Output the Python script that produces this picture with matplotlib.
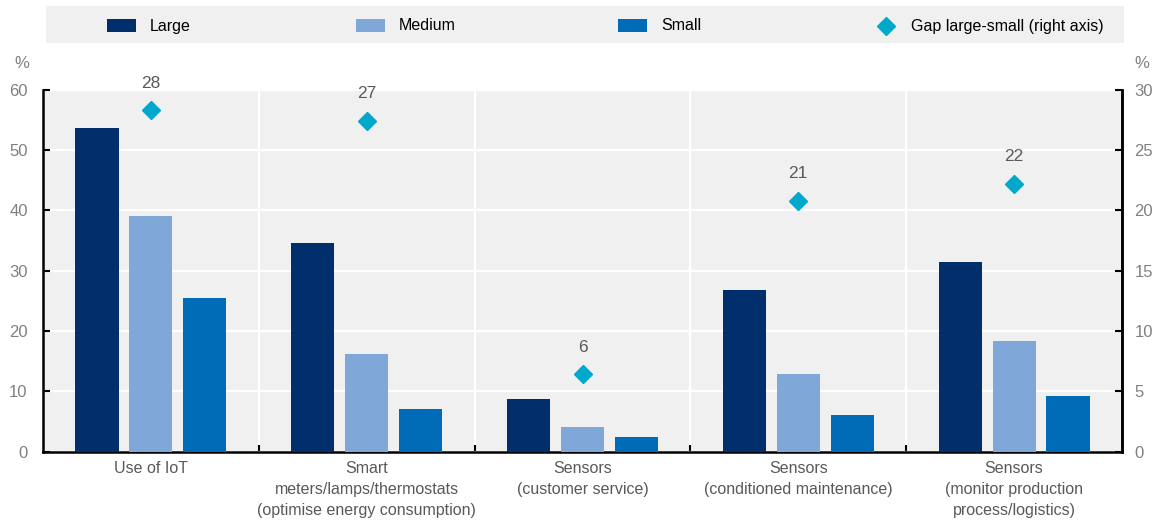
import matplotlib
matplotlib.use('Agg')
import numpy as np
import matplotlib.pyplot as plt
from matplotlib.patches import Rectangle
from matplotlib.lines import Line2D

plt.rcParams['font.family'] = ['Liberation Sans Narrow', 'Liberation Sans', 'DejaVu Sans']

categories = ['Use of IoT',
              'Smart\nmeters/lamps/thermostats\n(optimise energy consumption)',
              'Sensors\n(customer service)',
              'Sensors\n(conditioned maintenance)',
              'Sensors\n(monitor production\nprocess/logistics)']
large = [53.7, 34.5, 8.8, 26.8, 31.5]
medium = [39.0, 16.2, 4.1, 12.9, 18.4]
small = [25.4, 7.0, 2.5, 6.0, 9.3]
gap = [28.3, 27.4, 6.4, 20.8, 22.2]

series_names = ['Large', 'Medium', 'Small']
series_colors = ['#002F6C', '#7FA8D9', '#006BB6']
gap_color = '#00A9CB'
bg = '#F0F0F0'
txt = '#595959'
tick_txt = '#808080'

fig = plt.figure(figsize=(11.61, 5.22), dpi=100)
ax = fig.add_axes([43 / 1161, 1 - 451.7 / 522, (1122 - 43) / 1161, (451.7 - 89.5) / 522])
ax.set_facecolor(bg)

x = np.arange(len(categories))
for i, (vals, col) in enumerate(zip([large, medium, small], series_colors)):
    ax.bar(x + (i - 1) * 0.25, vals, width=0.2, color=col, zorder=3)

ax.set_xlim(-0.5, len(categories) - 0.5)
ax.set_ylim(0, 60)
ax.set_yticks(np.arange(0, 61, 10))
ax.yaxis.grid(True, color='white', lw=1.6, zorder=1)
for b in np.arange(0.5, len(categories) - 0.5, 1):
    ax.axvline(b, color='white', lw=1.6, zorder=1)

ax.set_xticks(x)
ax.set_xticklabels(categories, color=txt, fontsize=11.5, linespacing=1.5)
ax.set_xticks(np.arange(0.5, len(categories) - 0.5, 1), minor=True)
ax.tick_params(axis='x', which='major', length=0, pad=7)
ax.tick_params(axis='x', which='minor', direction='in', length=5, width=1.5, color='black')
ax.tick_params(axis='y', direction='in', length=5, width=1.5, colors='black',
               labelcolor=tick_txt, labelsize=12, pad=11)
ax.spines['top'].set_visible(False)
for s in ['left', 'right', 'bottom']:
    ax.spines[s].set_linewidth(1.8)

ax2 = ax.twinx()
ax2.set_ylim(0, 30)
ax2.set_yticks(np.arange(0, 31, 5))
ax2.tick_params(axis='y', direction='in', length=5, width=1.5, colors='black',
                labelcolor=tick_txt, labelsize=12, pad=9)
for s in ['top', 'left', 'bottom']:
    ax2.spines[s].set_visible(False)
ax2.spines['right'].set_linewidth(1.8)
ax2.plot(x, gap, linestyle='none', marker='D', markersize=9, color=gap_color, zorder=4)
for xi, g in zip(x, gap):
    ax2.annotate(f'{g:.0f}', (xi, g), xytext=(0, 14), textcoords='offset points',
                 ha='center', va='bottom', color=txt, fontsize=12.5)

fig.text(22 / 1161, 1 - 64 / 522, '%', color=tick_txt, fontsize=12, ha='center', va='center')
fig.text(1142 / 1161, 1 - 64 / 522, '%', color=tick_txt, fontsize=12, ha='center', va='center')

# legend band
fig.patches.append(Rectangle((46 / 1161, 1 - 43 / 522), (1124 - 46) / 1161, 37 / 522,
                             transform=fig.transFigure, facecolor=bg, edgecolor='none'))
ly = 1 - 26 / 522
for name, col, px in zip(series_names, series_colors, [107, 356, 618]):
    fig.patches.append(Rectangle((px / 1161, ly - 6 / 522), 29 / 1161, 13 / 522,
                                 transform=fig.transFigure, facecolor=col, edgecolor='none'))
    fig.text((px + 43) / 1161, ly, name, fontsize=11.5, va='center', ha='left', color='black')
fig.add_artist(Line2D([886 / 1161], [ly], transform=fig.transFigure, marker='D',
                      markersize=9, color=gap_color, linestyle='none'))
fig.text(911 / 1161, ly, 'Gap large-small (right axis)', fontsize=11.5, va='center',
         ha='left', color='black')

fig.savefig('out.png', dpi=100)
